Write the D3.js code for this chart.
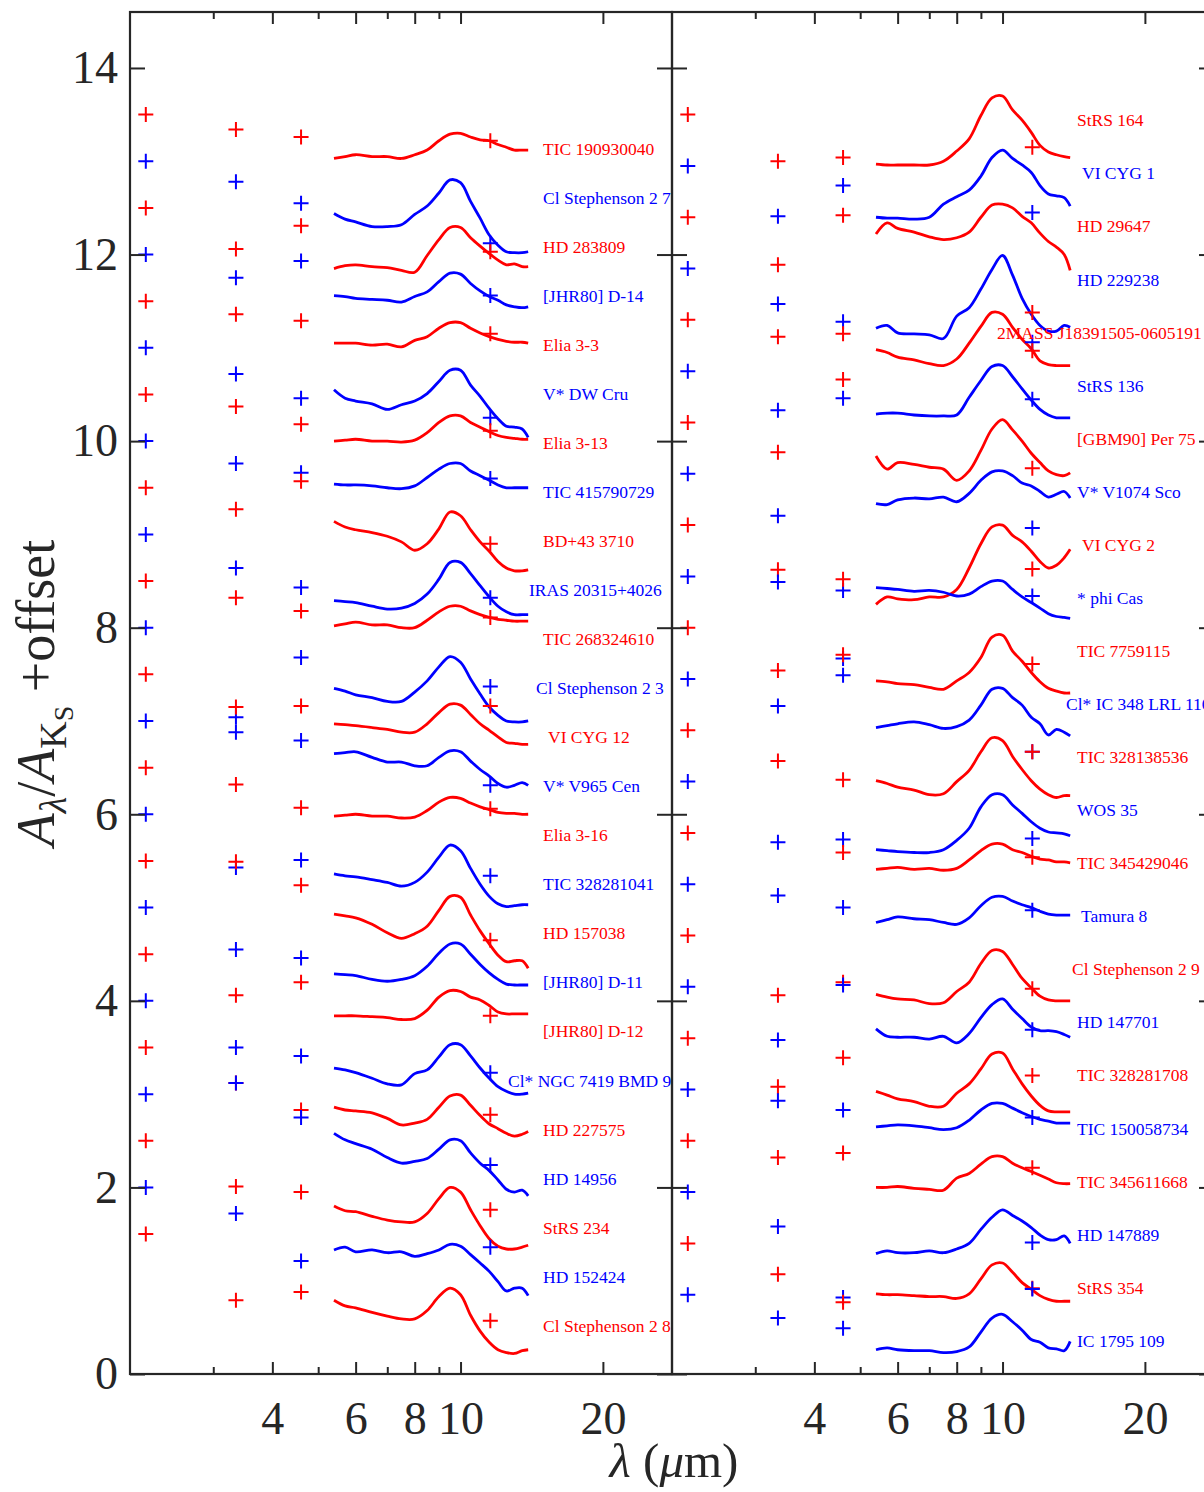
<!DOCTYPE html>
<html><head><meta charset="utf-8">
<script src="https://cdn.jsdelivr.net/npm/d3@7"></script>
<style>body{margin:0;background:#fff;} svg{display:block;} text{font-family:"Liberation Serif","Times New Roman",serif;}</style>
</head><body><svg id="chart" width="1204" height="1492"></svg>
<script>
// ---------------- DATA ----------------
const wavelengths = [5.4, 5.7, 6, 6.5, 7, 7.5, 8, 8.5, 9, 9.5, 10, 10.5, 11, 11.5, 12, 12.5, 13, 13.5, 13.9];
const bandWavelengths = [2.16, 3.35, 4.6, 11.56]; // Ks, W1, W2, W3
const xMajorTicks = [4, 6, 8, 10, 20];
const xMinorTicks = [3, 5, 7, 9];
const yTicks = [0, 2, 4, 6, 8, 10, 12, 14];

const leftNames = ["TIC 190930040","Cl Stephenson 2 7","HD 283809","[JHR80] D-14","Elia 3-3","V* DW Cru","Elia 3-13","TIC 415790729","BD+43 3710","IRAS 20315+4026","TIC 268324610","Cl Stephenson 2 3","VI CYG 12","V* V965 Cen","Elia 3-16","TIC 328281041","HD 157038","[JHR80] D-11","[JHR80] D-12","Cl* NGC 7419 BMD 9","HD 227575","HD 14956","StRS 234","HD 152424","Cl Stephenson 2 8"];
const rightNames = ["StRS 164","VI CYG 1","HD 29647","HD 229238","2MASS J18391505-0605191","StRS 136","[GBM90] Per 75","V* V1074 Sco","VI CYG 2","* phi Cas","TIC 7759115","Cl* IC 348 LRL 110","TIC 328138536","WOS 35","TIC 345429046","Tamura 8","Cl Stephenson 2 9","HD 147701","TIC 328281708","TIC 150058734","TIC 345611668","HD 147889","StRS 354","IC 1795 109"];

const leftSpectra = [
 [13.03,13.05,13.07,13.05,13.05,13.03,13.07,13.12,13.22,13.29,13.30,13.26,13.23,13.22,13.18,13.15,13.12,13.12,13.12],
 [12.44,12.38,12.35,12.30,12.30,12.32,12.43,12.52,12.66,12.80,12.77,12.57,12.39,12.21,12.10,12.03,12.02,12.02,12.03],
 [11.85,11.88,11.89,11.87,11.86,11.83,11.81,11.99,12.16,12.29,12.29,12.18,12.09,12.01,11.94,11.89,11.90,11.87,11.87],
 [11.56,11.55,11.53,11.52,11.51,11.49,11.55,11.60,11.71,11.80,11.79,11.69,11.61,11.55,11.51,11.46,11.44,11.43,11.44],
 [11.05,11.05,11.05,11.03,11.04,11.01,11.08,11.12,11.21,11.27,11.27,11.21,11.16,11.12,11.09,11.07,11.06,11.06,11.05],
 [10.55,10.46,10.43,10.40,10.34,10.39,10.43,10.51,10.64,10.76,10.76,10.60,10.48,10.35,10.24,10.16,10.15,10.13,10.04],
 [10.00,10.01,10.02,10.00,10.00,9.99,10.01,10.09,10.20,10.27,10.27,10.20,10.15,10.10,10.06,10.04,10.03,10.02,10.02],
 [9.54,9.53,9.53,9.52,9.50,9.49,9.52,9.61,9.70,9.76,9.76,9.68,9.63,9.58,9.53,9.50,9.50,9.50,9.50],
 [9.14,9.08,9.05,9.02,8.98,8.92,8.83,8.90,9.06,9.24,9.20,9.05,8.92,8.82,8.71,8.64,8.61,8.61,8.62],
 [8.29,8.28,8.27,8.23,8.20,8.21,8.26,8.36,8.52,8.70,8.70,8.58,8.45,8.33,8.23,8.17,8.14,8.14,8.14],
 [8.02,8.04,8.06,8.03,8.03,8.00,8.00,8.08,8.17,8.23,8.23,8.18,8.14,8.11,8.09,8.08,8.07,8.07,8.07],
 [7.35,7.32,7.28,7.25,7.21,7.21,7.31,7.43,7.58,7.69,7.63,7.45,7.29,7.15,7.06,7.00,6.99,6.99,7.00],
 [6.97,6.96,6.95,6.93,6.91,6.88,6.88,6.97,7.09,7.18,7.17,7.07,6.97,6.90,6.83,6.77,6.76,6.75,6.75],
 [6.65,6.66,6.67,6.61,6.56,6.56,6.52,6.52,6.61,6.68,6.67,6.57,6.48,6.41,6.33,6.29,6.31,6.34,6.31],
 [5.98,5.99,6.00,5.98,5.98,5.96,5.97,6.04,6.13,6.18,6.17,6.12,6.08,6.05,6.02,6.01,6.01,6.00,6.00],
 [5.36,5.34,5.33,5.30,5.27,5.23,5.27,5.38,5.54,5.67,5.61,5.42,5.25,5.12,5.04,5.01,5.02,5.03,5.03],
 [4.93,4.91,4.89,4.82,4.73,4.67,4.72,4.80,4.97,5.12,5.11,4.92,4.75,4.61,4.49,4.42,4.43,4.43,4.35],
 [4.29,4.28,4.27,4.23,4.21,4.23,4.27,4.37,4.51,4.61,4.61,4.50,4.39,4.30,4.23,4.18,4.17,4.17,4.17],
 [3.84,3.84,3.84,3.83,3.82,3.80,3.81,3.90,4.04,4.11,4.10,4.04,4.01,3.95,3.88,3.86,3.86,3.86,3.86],
 [3.28,3.26,3.23,3.17,3.11,3.10,3.22,3.26,3.40,3.53,3.53,3.41,3.28,3.17,3.08,3.03,3.00,3.00,3.01],
 [2.86,2.83,2.82,2.80,2.74,2.67,2.69,2.73,2.86,2.98,2.99,2.88,2.77,2.68,2.63,2.58,2.55,2.57,2.60],
 [2.58,2.51,2.47,2.41,2.32,2.26,2.28,2.31,2.41,2.51,2.50,2.37,2.26,2.18,2.08,1.98,1.95,1.97,1.91],
 [1.80,1.75,1.74,1.69,1.65,1.63,1.63,1.72,1.88,2.00,1.95,1.76,1.59,1.45,1.37,1.34,1.34,1.36,1.38],
 [1.33,1.36,1.31,1.33,1.30,1.31,1.26,1.29,1.33,1.39,1.37,1.28,1.19,1.10,0.99,0.89,0.92,0.92,0.84],
 [0.79,0.73,0.71,0.66,0.62,0.59,0.59,0.68,0.83,0.92,0.85,0.63,0.46,0.34,0.26,0.23,0.22,0.25,0.26]
];
const rightSpectra = [
 [12.97,12.96,12.96,12.96,12.96,13.00,13.11,13.24,13.49,13.68,13.70,13.55,13.44,13.31,13.17,13.10,13.07,13.05,13.04],
 [12.40,12.39,12.39,12.38,12.40,12.54,12.62,12.69,12.84,13.04,13.12,13.03,12.96,12.88,12.74,12.65,12.63,12.61,12.52],
 [12.22,12.34,12.28,12.24,12.19,12.16,12.18,12.24,12.40,12.53,12.54,12.50,12.41,12.34,12.23,12.14,12.08,12.00,11.83],
 [11.21,11.24,11.16,11.15,11.14,11.10,11.34,11.43,11.63,11.84,11.99,11.78,11.53,11.36,11.24,11.18,11.18,11.24,11.22],
 [10.98,10.95,10.90,10.87,10.83,10.81,10.88,11.05,11.23,11.38,11.36,11.22,11.09,10.99,10.86,10.82,10.81,10.81,10.81],
 [10.29,10.30,10.30,10.28,10.27,10.27,10.28,10.47,10.65,10.80,10.81,10.69,10.56,10.44,10.34,10.28,10.25,10.25,10.25],
 [9.84,9.70,9.77,9.75,9.72,9.70,9.58,9.68,9.90,10.13,10.23,10.12,10.00,9.87,9.77,9.68,9.64,9.63,9.66],
 [9.33,9.32,9.37,9.39,9.38,9.40,9.35,9.44,9.58,9.67,9.68,9.63,9.55,9.52,9.46,9.40,9.43,9.46,9.39],
 [8.25,8.33,8.31,8.30,8.33,8.33,8.41,8.64,8.90,9.08,9.10,8.99,8.92,8.82,8.71,8.64,8.67,8.75,8.84],
 [8.43,8.42,8.41,8.39,8.40,8.38,8.34,8.36,8.44,8.50,8.50,8.41,8.33,8.27,8.21,8.15,8.12,8.11,8.10],
 [7.43,7.42,7.40,7.39,7.36,7.34,7.43,7.52,7.68,7.90,7.92,7.75,7.64,7.52,7.42,7.35,7.32,7.30,7.30],
 [6.93,6.95,6.97,6.99,6.96,6.92,6.94,7.01,7.17,7.34,7.35,7.25,7.17,7.04,6.97,6.85,6.91,6.88,6.84],
 [6.36,6.33,6.29,6.26,6.21,6.22,6.35,6.47,6.67,6.82,6.79,6.62,6.48,6.36,6.27,6.21,6.18,6.20,6.20],
 [5.62,5.61,5.60,5.59,5.59,5.62,5.72,5.85,6.08,6.21,6.21,6.10,6.01,5.92,5.85,5.81,5.80,5.79,5.77],
 [5.41,5.42,5.43,5.41,5.42,5.40,5.42,5.51,5.61,5.68,5.68,5.62,5.59,5.55,5.52,5.51,5.49,5.49,5.48],
 [4.84,4.87,4.90,4.88,4.87,4.84,4.82,4.89,5.02,5.11,5.12,5.07,5.03,5.00,4.96,4.93,4.92,4.92,4.92],
 [4.07,4.04,4.02,4.01,3.97,3.98,4.10,4.20,4.40,4.54,4.53,4.39,4.24,4.14,4.05,4.01,4.00,4.00,4.00],
 [3.70,3.62,3.61,3.61,3.59,3.62,3.55,3.65,3.82,3.96,4.02,3.91,3.81,3.72,3.68,3.68,3.67,3.64,3.61],
 [3.03,2.99,2.95,2.92,2.87,2.87,3.01,3.11,3.27,3.43,3.44,3.27,3.11,2.98,2.88,2.82,2.81,2.81,2.81],
 [2.65,2.66,2.67,2.66,2.64,2.62,2.64,2.72,2.83,2.90,2.90,2.85,2.80,2.76,2.73,2.71,2.69,2.69,2.69],
 [2.00,2.00,2.01,1.99,1.98,1.97,2.10,2.15,2.25,2.33,2.33,2.26,2.21,2.17,2.13,2.09,2.05,2.04,2.04],
 [1.29,1.32,1.30,1.30,1.32,1.30,1.34,1.40,1.55,1.68,1.76,1.70,1.64,1.57,1.49,1.44,1.44,1.48,1.40],
 [0.86,0.85,0.85,0.84,0.83,0.83,0.81,0.86,1.02,1.17,1.19,1.09,0.98,0.91,0.84,0.80,0.78,0.78,0.78],
 [0.26,0.28,0.26,0.25,0.25,0.23,0.24,0.29,0.45,0.60,0.64,0.56,0.47,0.37,0.34,0.28,0.27,0.25,0.35]
];

// photometric points (one per star, same order as names; null = not shown)
const leftK  = [13.5,13.0,12.5,12.0,11.5,11.0,10.5,10.0,9.5,9.0,8.5,8.0,7.5,7.0,6.5,6.0,5.5,5.0,4.5,4.0,3.5,3.0,2.5,2.0,1.5];
const leftW1 = [13.34,12.78,12.06,11.75,11.36,10.72,10.37,9.76,9.27,8.64,8.32,7.04,7.15,6.88,6.32,5.43,5.49,4.55,4.06,3.50,3.12,3.12,2.01,1.72,0.79];
const leftW2 = [13.26,12.55,12.31,11.93,11.29,10.46,10.18,9.66,9.57,8.43,8.18,7.68,7.16,6.79,6.07,5.51,5.24,4.46,4.20,3.41,2.83,2.75,1.95,1.21,0.88];
const leftW3 = [13.22,12.12,12.03,11.56,11.15,10.25,10.11,9.60,8.90,8.32,8.11,7.37,7.16,6.31,6.06,5.34,4.65,null,3.84,3.23,2.78,2.24,1.76,1.36,0.57];

const rightK  = [13.5,12.95,12.4,11.85,11.3,10.75,10.2,9.65,9.1,8.55,8.0,7.45,6.9,6.35,5.8,5.25,4.7,4.15,3.6,3.05,2.5,1.95,1.4,0.85];
const rightW1 = [13.00,12.41,11.89,11.47,11.12,10.33,9.88,9.20,8.62,8.49,7.54,7.16,6.57,5.70,null,5.13,4.06,3.58,3.08,2.93,2.32,1.58,1.07,0.60];
const rightW2 = [13.04,12.74,12.42,11.28,11.15,10.46,10.66,8.40,8.52,7.67,7.71,7.49,6.37,5.73,5.59,5.00,4.20,4.17,3.39,2.83,2.37,0.82,0.77,0.49];
const rightW3 = [13.15,12.45,11.38,11.06,10.97,10.45,9.71,9.07,8.63,8.34,7.61,6.67,6.67,5.74,5.54,4.97,4.13,3.69,3.20,2.75,2.21,1.41,0.92,0.91];

// ---------------- LAYOUT ----------------
const W = 1204, H = 1492, plotTop = 12, plotBottom = 1374;
const RED = "#ff0000", BLUE = "#0000ff", AXIS = "#262626";
const panels = [
  {x0: 130, x1: 672, names: leftNames, spectra: leftSpectra, bands: [leftK, leftW1, leftW2, leftW3],
   labelStart: 13.13, labelStep: 0.5254, labelOffset: 413,
   nudges: {"IRAS 20315+4026": -14, "Cl Stephenson 2 3": -7, "VI CYG 12": 5, "Cl* NGC 7419 BMD 9": -35}, yLabels: true},
  {x0: 672, x1: 1214, names: rightNames, spectra: rightSpectra, bands: [rightK, rightW1, rightW2, rightW3],
   labelStart: 13.44, labelStep: 0.5688, labelOffset: 405,
   nudges: {"VI CYG 1": 5, "2MASS J18391505-0605191": -80, "VI CYG 2": 5, "Cl* IC 348 LRL 110": -11, "Tamura 8": 4, "Cl Stephenson 2 9": -5}, yLabels: false}
];

const svg = d3.select("#chart");
svg.append("rect").attr("width", W).attr("height", H).attr("fill", "#fff");
const y = d3.scaleLinear().domain([0, 14.6]).range([plotBottom, plotTop]);

function styleAxis(g, fontSize) {
  g.select(".domain").remove();
  g.selectAll(".tick line").attr("stroke", AXIS).attr("stroke-width", 2);
  g.selectAll(".tick text").attr("fill", AXIS).attr("font-size", fontSize)
    .attr("font-family", "Liberation Serif, Times New Roman, serif");
}

panels.forEach((p, pi) => {
  const x = d3.scaleLog().domain([2, 28]).range([p.x0, p.x1]);
  const clipId = "clip" + pi;
  svg.append("clipPath").attr("id", clipId).append("rect")
    .attr("x", p.x0).attr("y", plotTop).attr("width", p.x1 - p.x0).attr("height", plotBottom - plotTop);
  const g = svg.append("g").attr("clip-path", `url(#${clipId})`);

  const line = d3.line().x((d, i) => x(wavelengths[i])).y(d => y(d)).curve(d3.curveCatmullRom.alpha(0.5));
  g.selectAll("path.spec").data(p.spectra).join("path").attr("class", "spec")
    .attr("d", line).attr("fill", "none")
    .attr("stroke", (d, i) => i % 2 ? BLUE : RED).attr("stroke-width", 2.8)
    .attr("stroke-linejoin", "round");

  const pts = [];
  p.bands.forEach((arr, b) => arr.forEach((v, i) => { if (v != null) pts.push({lam: bandWavelengths[b], v, i}); }));
  g.selectAll("path.mk").data(pts).join("path").attr("class", "mk")
    .attr("transform", d => `translate(${x(d.lam)},${y(d.v)})`)
    .attr("d", "M-7.5,0H7.5M0,-7.5V7.5")
    .attr("stroke", d => d.i % 2 ? BLUE : RED).attr("stroke-width", 2).attr("fill", "none");

  g.selectAll("text.lab").data(p.names).join("text").attr("class", "lab")
    .attr("x", d => p.x0 + p.labelOffset + (p.nudges[d] || 0))
    .attr("y", (d, i) => y(p.labelStart - p.labelStep * i))
    .attr("dy", "0.35em")
    .attr("fill", (d, i) => i % 2 ? BLUE : RED)
    .attr("font-size", 17.5)
    .text(d => d);

  // axes
  const bottomMajor = svg.append("g").attr("transform", `translate(0,${plotBottom})`)
    .call(d3.axisBottom(x).tickValues(xMajorTicks).tickSize(-12).tickPadding(27).tickFormat(d3.format("d")));
  styleAxis(bottomMajor, 46);
  const bottomMinor = svg.append("g").attr("transform", `translate(0,${plotBottom})`)
    .call(d3.axisBottom(x).tickValues(xMinorTicks).tickSize(-7).tickFormat(""));
  styleAxis(bottomMinor, 46);
  const topMajor = svg.append("g").attr("transform", `translate(0,${plotTop})`)
    .call(d3.axisTop(x).tickValues(xMajorTicks).tickSize(-12).tickFormat(""));
  styleAxis(topMajor, 46);
  const topMinor = svg.append("g").attr("transform", `translate(0,${plotTop})`)
    .call(d3.axisTop(x).tickValues(xMinorTicks).tickSize(-7).tickFormat(""));
  styleAxis(topMinor, 46);

  const leftAx = svg.append("g").attr("transform", `translate(${p.x0},0)`)
    .call(d3.axisLeft(y).tickValues(yTicks).tickSize(-15).tickPadding(12)
      .tickFormat(p.yLabels ? d3.format("d") : ""));
  styleAxis(leftAx, 46);
  const rightAx = svg.append("g").attr("transform", `translate(${p.x1},0)`)
    .call(d3.axisRight(y).tickValues(yTicks).tickSize(-15).tickFormat(""));
  styleAxis(rightAx, 46);

  svg.append("rect").attr("x", p.x0).attr("y", plotTop).attr("width", p.x1 - p.x0).attr("height", plotBottom - plotTop)
    .attr("fill", "none").attr("stroke", AXIS).attr("stroke-width", 2.2);
});

// x-axis title
const xt = svg.append("text").attr("x", 674).attr("y", 1477).attr("text-anchor", "middle")
  .attr("font-size", 49).attr("fill", AXIS);
xt.append("tspan").attr("font-style", "italic").text("λ");
xt.append("tspan").text(" (");
xt.append("tspan").attr("font-style", "italic").text("μ");
xt.append("tspan").text("m)");

// y-axis title
const yt = svg.append("text").attr("transform", "translate(54,693) rotate(-90)")
  .attr("text-anchor", "middle").attr("font-size", 54).attr("fill", AXIS);
yt.append("tspan").attr("font-style", "italic").text("A");
yt.append("tspan").attr("font-style", "italic").attr("font-size", 38).attr("dy", 12).text("λ");
yt.append("tspan").attr("dy", -12).text("/");
yt.append("tspan").attr("font-style", "italic").text("A");
yt.append("tspan").attr("font-size", 38).attr("dy", 12).text("K");
yt.append("tspan").attr("font-size", 28).attr("dy", 7).text("S");
yt.append("tspan").attr("dy", -19).text(" +offset");
</script>
</body></html>
